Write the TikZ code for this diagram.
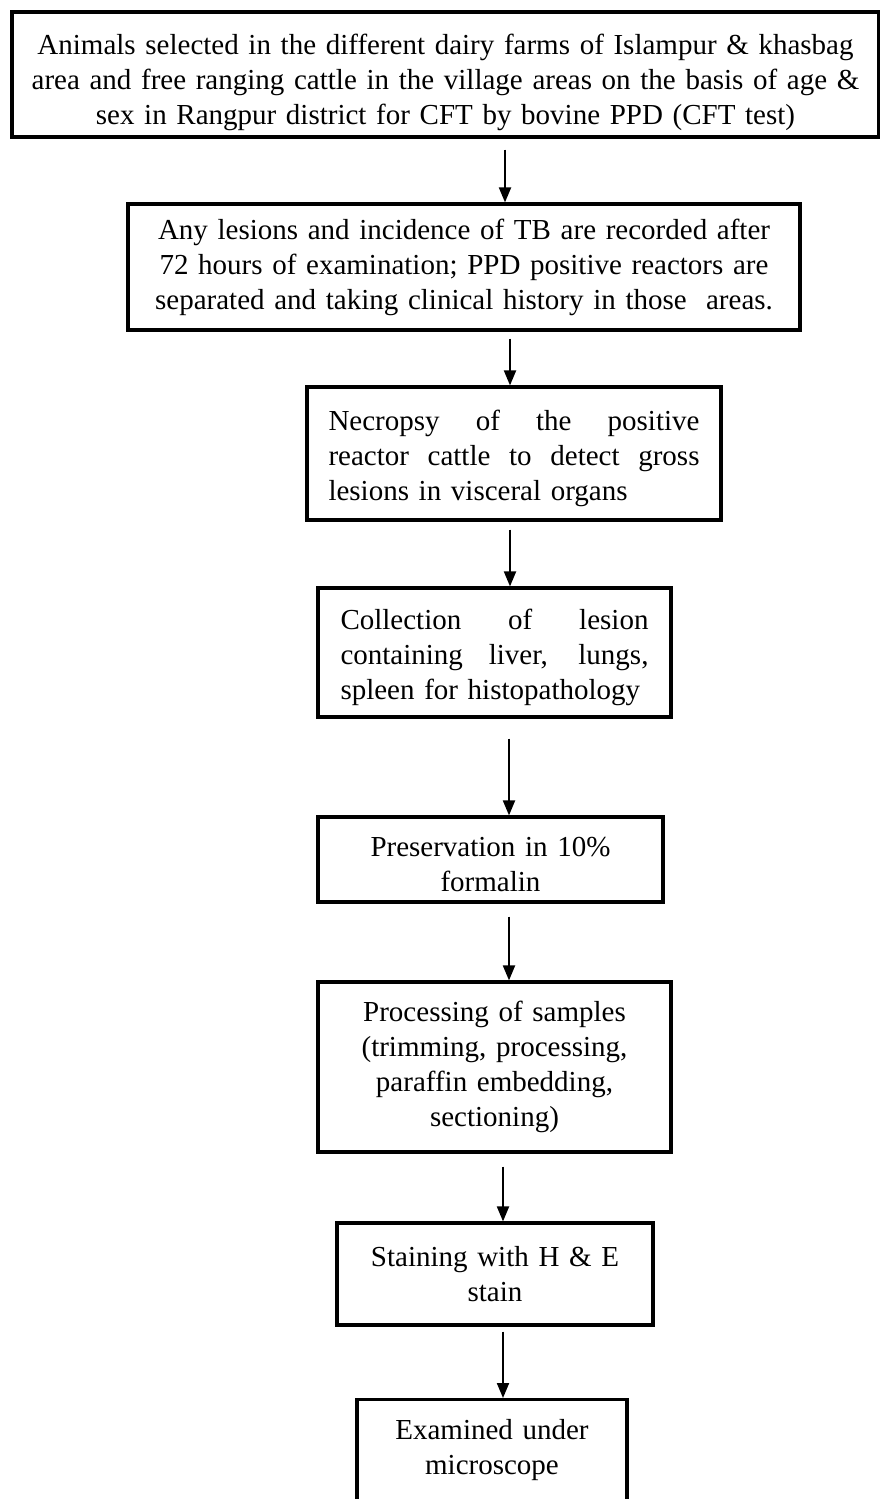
\documentclass[tikz,border=0pt]{standalone}
\usepackage{fontspec}
\setmainfont{Liberation Serif}
\usetikzlibrary{arrows.meta}
\hyphenpenalty=10000

\newcommand{\spreadline}[2]{\leavevmode\hbox to #1{\spaceskip=.25em plus 1fil #2}}

\tikzset{
  stage/.style={draw, line width=3.2pt, align=center, inner sep=0pt,
    font=\fontsize{29}{35}\selectfont},
  flow/.style={-{Triangle[length=15pt,width=12pt]}, line width=2pt},
}

\begin{document}
\begin{tikzpicture}[x=1pt, y=-1pt]
\useasboundingbox (0,0) rectangle (880,1499);

\node[stage, minimum width=867pt, minimum height=125pt, text width=860pt, text depth=60pt] (select) at (445.5,74.5)
  {Animals selected in the different dairy farms of Islampur \& khasbag\\
   area and free ranging cattle in the village areas on the basis of age \&\\
   sex in Rangpur district for CFT by bovine PPD (CFT test)};
\node[stage, minimum width=672pt, minimum height=126pt, text width=660pt] (record) at (464,267)
  {Any lesions and incidence of TB are recorded after\\
   72 hours of examination; PPD positive reactors are\\
   separated and taking clinical history in those~ areas.};
\node[stage, align=left, minimum width=414pt, minimum height=133pt, text width=371pt, text depth=66pt] (necropsy) at (514,453.5)
  {\spreadline{371pt}{Necropsy of the positive}\\
   \spreadline{371pt}{reactor cattle to detect gross}\\
   lesions in visceral organs};
\node[stage, align=left, minimum width=353pt, minimum height=129pt, text width=308pt, text depth=66pt] (collect) at (494.5,652.5)
  {\spreadline{308pt}{Collection of lesion}\\
   \spreadline{308pt}{containing liver, lungs,}\\
   spleen for histopathology};
\node[stage, minimum width=345pt, minimum height=85pt, text width=335pt, text depth=25pt] (preserve) at (490.5,859.5)
  {Preservation in 10\%\\ formalin};
\node[stage, minimum width=353pt, minimum height=170pt, text width=340pt] (process) at (494.5,1067)
  {Processing of samples\\ (trimming, processing,\\ paraffin embedding,\\ sectioning)};
\node[stage, minimum width=316pt, minimum height=102pt, text width=305pt] (stain) at (495,1274)
  {Staining with H \& E\\ stain};
\node[stage, anchor=north, minimum width=270pt, inner ysep=20pt, text depth=120pt, text width=260pt] (exam) at (492,1398)
  {Examined under\\ microscope};

\draw[flow] (select.south -| 505,0) ++(0,11) -- (record.north -| 505,0);
\draw[flow] (record.south -| 510,0) ++(0,7) -- (necropsy.north -| 510,0);
\draw[flow] (necropsy.south -| 510,0) ++(0,8) -- (collect.north -| 510,0);
\draw[flow] (collect.south -| 509,0) ++(0,20) -- (preserve.north -| 509,0);
\draw[flow] (preserve.south -| 509,0) ++(0,13) -- (process.north -| 509,0);
\draw[flow] (process.south -| 503,0) ++(0,13) -- (stain.north -| 503,0);
\draw[flow] (stain.south -| 503,0) ++(0,5) -- (exam.north -| 503,0);
\end{tikzpicture}
\end{document}
